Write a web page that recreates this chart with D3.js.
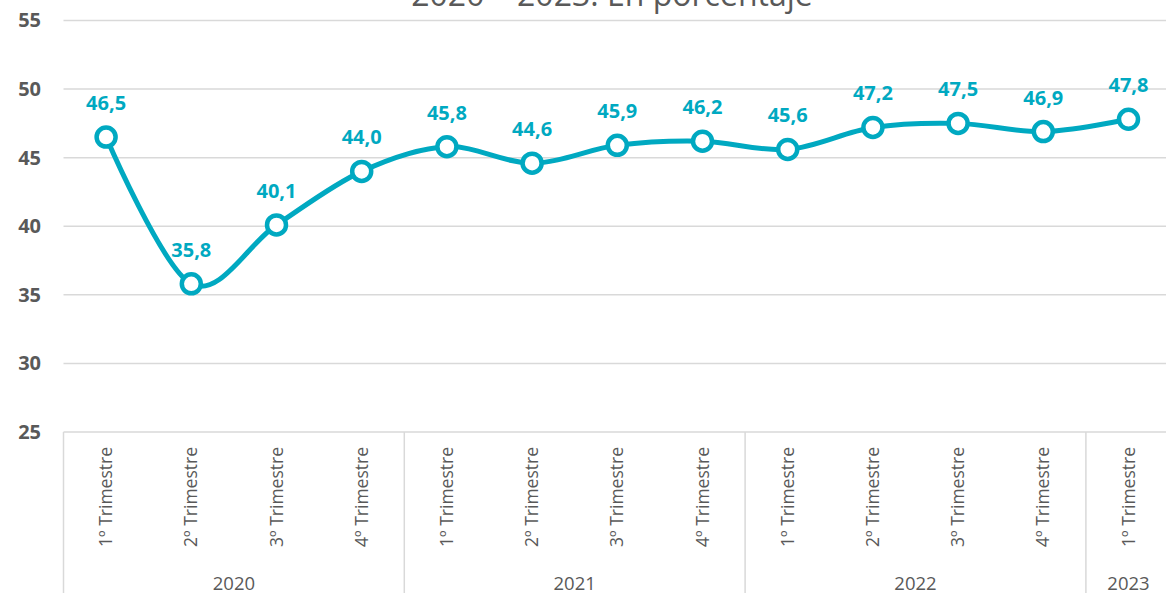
<!DOCTYPE html>
<html><head><meta charset="utf-8">
<script src="https://cdn.jsdelivr.net/npm/d3@7"></script>
<style>html,body{margin:0;padding:0;background:#fff;overflow:hidden}</style>
</head><body>
<svg id="c" width="1166" height="593"></svg>
<script>
const quarters = ["1º Trimestre","2º Trimestre","3º Trimestre","4º Trimestre","1º Trimestre","2º Trimestre","3º Trimestre","4º Trimestre","1º Trimestre","2º Trimestre","3º Trimestre","4º Trimestre","1º Trimestre"];
const years = ["2020","2020","2020","2020","2021","2021","2021","2021","2022","2022","2022","2022","2023"];
const values = [46.5,35.8,40.1,44.0,45.8,44.6,45.9,46.2,45.6,47.2,47.5,46.9,47.8];
const yTicks = [25,30,35,40,45,50,55];
const title = "2020 – 2023. En porcentaje";

const svg = d3.select("#c");
const color = "#00A9C1";
const gray = "#595959";
const grid = "#d9d9d9";
const font = "'Open Sans', sans-serif";
const left = 63.5, bandW = 85.2;
const idx = values.map((d,i)=>i);
const x = d3.scaleBand().domain(idx).range([left, left + bandW*idx.length]);
const y = d3.scaleLinear().domain([25,55]).range([432,20.5]);

svg.append("text").attr("x",612).attr("y",6).attr("text-anchor","middle")
  .attr("font-family",font).attr("font-size",32).attr("fill",gray).text(title);

// gridlines
svg.append("g").selectAll("line").data(yTicks).join("line")
  .attr("x1",left).attr("x2",1166).attr("y1",d=>y(d)).attr("y2",d=>y(d))
  .attr("stroke",grid).attr("stroke-width",1.5);

// y axis labels
const yAxis = d3.axisLeft(y).tickValues(yTicks).tickSize(0).tickPadding(0);
const ga = svg.append("g").attr("transform","translate(41,0)").call(yAxis);
ga.select(".domain").remove();
ga.selectAll("text").attr("font-family",font).attr("font-size",20).attr("font-weight","bold").attr("fill",gray);

// x category labels
svg.append("g").selectAll("text").data(idx).join("text")
  .attr("transform",i=>`translate(${x(i)+x.bandwidth()/2},447) rotate(-90)`)
  .attr("text-anchor","end").attr("dy","0.35em")
  .attr("font-family",font).attr("font-size",17.5).attr("fill",gray)
  .text(i=>quarters[i]);

// year groups
const groups = d3.groups(idx, i=>years[i]);
const sepX = [left];
groups.forEach(([yr, arr])=>{
  const x0 = x(arr[0]), x1 = x(arr[arr.length-1]) + x.bandwidth();
  sepX.push(x1);
  svg.append("text").attr("x",(x0+x1)/2).attr("y",590)
    .attr("text-anchor","middle").attr("font-family",font).attr("font-size",18.5).attr("fill",gray).text(yr);
});
svg.append("g").selectAll("line").data(sepX).join("line")
  .attr("x1",d=>d).attr("x2",d=>d).attr("y1",432).attr("y2",593)
  .attr("stroke",grid).attr("stroke-width",1.5);

// line
const cx = i=>x(i)+x.bandwidth()/2;
const line = d3.line().x(i=>cx(i)).y(i=>y(values[i])).curve(d3.curveCardinal.tension(0));
svg.append("path").datum(idx).attr("d",line).attr("fill","none")
  .attr("stroke",color).attr("stroke-width",5);

svg.append("g").selectAll("circle").data(idx).join("circle")
  .attr("cx",cx).attr("cy",i=>y(values[i])).attr("r",9.5)
  .attr("fill","#fff").attr("stroke",color).attr("stroke-width",4.5);

svg.append("g").selectAll("text").data(idx).join("text")
  .attr("x",cx).attr("y",i=>y(values[i])-27).attr("text-anchor","middle")
  .attr("font-family",font).attr("font-size",20).attr("font-weight","bold").attr("fill",color)
  .text(i=>values[i].toFixed(1).replace(".",","));
</script>
</body></html>
